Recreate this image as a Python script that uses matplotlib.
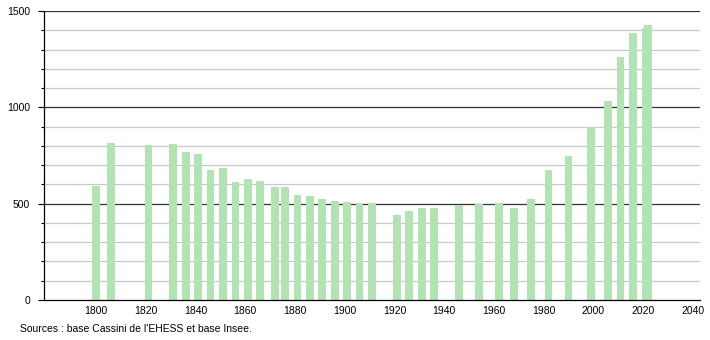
import matplotlib.pyplot as plt
from matplotlib.ticker import MultipleLocator

plt.rcParams['font.family'] = ['Liberation Sans', 'DejaVu Sans']

# census years and population
years = [1800, 1806, 1821, 1831, 1836, 1841, 1846, 1851, 1856, 1861, 1866,
         1872, 1876, 1881, 1886, 1891, 1896, 1901, 1906, 1911, 1921, 1926,
         1931, 1936, 1946, 1954, 1962, 1968, 1975, 1982, 1990, 1999, 2006,
         2011, 2016, 2021, 2022]
population = [593, 815, 803, 809, 767, 760, 677, 683, 612, 626, 617,
              586, 586, 543, 541, 522, 513, 508, 503, 503, 439, 461,
              477, 477, 491, 499, 503, 477, 524, 674, 750, 898, 1032,
              1260, 1386, 1410, 1426]

source = "Sources : base Cassini de l'EHESS et base Insee."

fig = plt.figure(figsize=(7.1, 3.4), dpi=100)
ax = fig.add_axes([0.062, 0.1176, 0.924, 0.85])

# grid lines: light every 100, dark every 500
for v in range(100, 1500, 100):
    if v % 500:
        ax.axhline(v, color='#c8c8c8', lw=0.9, zorder=0)
for v in (500, 1000, 1500):
    ax.axhline(v, color='#333333', lw=0.9, zorder=0)

ax.bar(years, population, width=3.1, color='#b2e3b2', zorder=2)

ax.set_xlim(1779, 2043)
ax.set_ylim(0, 1500)
ax.set_xticks(range(1800, 2041, 20))
ax.yaxis.set_major_locator(MultipleLocator(500))
ax.yaxis.set_minor_locator(MultipleLocator(100))
ax.tick_params(axis='x', length=0, pad=4, labelsize=7.5)
ax.tick_params(axis='y', which='major', length=4, width=0.8, labelsize=7.5, pad=6)
ax.tick_params(axis='y', which='minor', length=2, width=0.8)

for s in ('top', 'right'):
    ax.spines[s].set_visible(False)
ax.spines['left'].set_linewidth(0.9)
ax.spines['bottom'].set_linewidth(0.9)

fig.text(20 / 710, 1 - 329 / 340, source, fontsize=7.5, va='center', ha='left')

fig.savefig('out.png', dpi=100)
